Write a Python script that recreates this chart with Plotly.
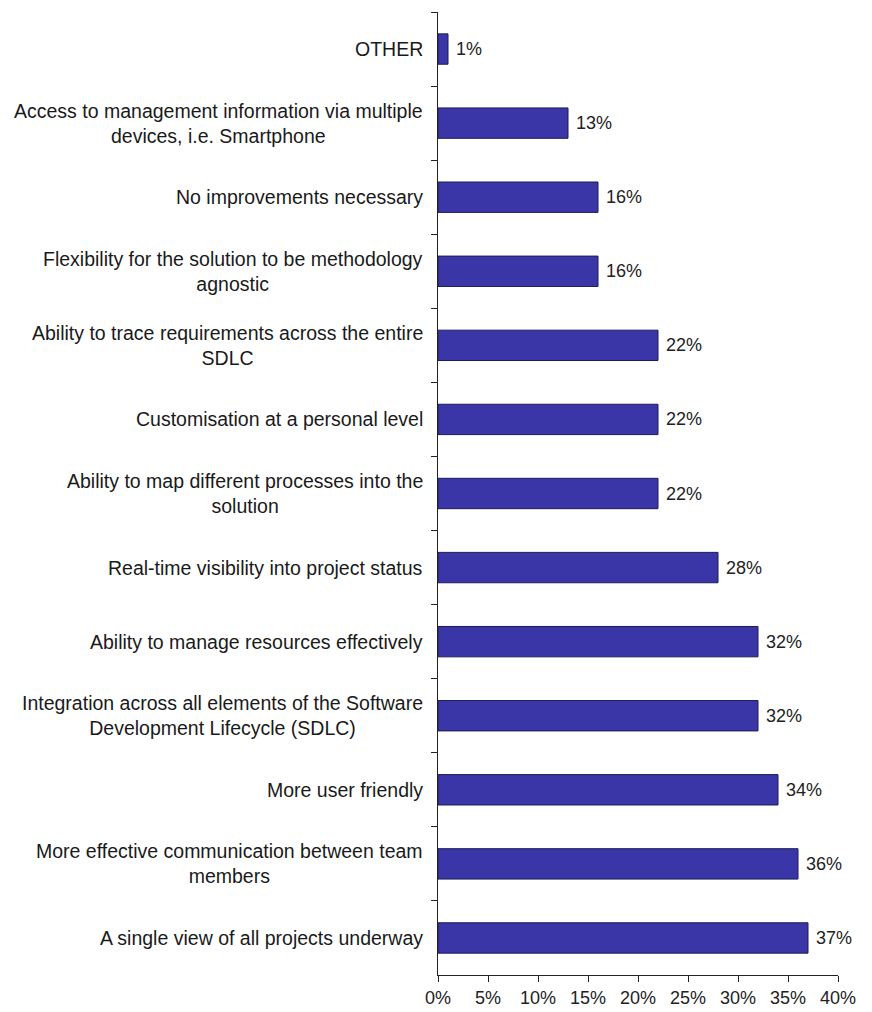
import plotly.graph_objects as go

categories = [
    "OTHER",
    "Access to management information via multiple<br>devices, i.e. Smartphone",
    "No improvements necessary",
    "Flexibility for the solution to be methodology<br>agnostic",
    "Ability to trace requirements across the entire<br>SDLC",
    "Customisation at a personal level",
    "Ability to map different processes into the<br>solution",
    "Real-time visibility into project status",
    "Ability to manage resources effectively",
    "Integration across all elements of the Software<br>Development Lifecycle (SDLC)",
    "More user friendly",
    "More effective communication between team<br>members",
    "A single view of all projects underway",
]
values = [1, 13, 16, 16, 22, 22, 22, 28, 32, 32, 34, 36, 37]
x_ticks = [0, 5, 10, 15, 20, 25, 30, 35, 40]

font_family = "Liberation Sans, Arial, sans-serif"

fig = go.Figure()
fig.add_trace(go.Bar(
    x=values,
    y=categories,
    orientation="h",
    marker=dict(color="#3a36a8", line=dict(color="#1c1c55", width=1)),
    text=[f" {v}%" for v in values],
    textposition="outside",
    textfont=dict(family=font_family, size=18, color="#222222"),
    cliponaxis=False,
    width=0.41,
))

annotations = []
for c in categories:
    annotations.append(dict(
        x=0, xref="paper", y=c, yref="y",
        text=c, showarrow=False,
        xanchor="right", yanchor="middle", align="center",
        xshift=-13,
        font=dict(family=font_family, size=19.5, color="#1a1a1a"),
    ))

fig.update_layout(
    width=864, height=1004,
    margin=dict(l=430, r=34, t=4, b=37),
    paper_bgcolor="white", plot_bgcolor="white",
    showlegend=False,
    annotations=annotations,
    font=dict(family=font_family, size=18, color="#222222"),
)
fig.update_xaxes(
    range=[0, 40],
    tickvals=x_ticks,
    ticktext=[f"{t}%" for t in x_ticks],
    ticks="outside", ticklen=6, tickcolor="#222222",
    showline=True, linecolor="#222222", linewidth=1,
    showgrid=False, zeroline=False, automargin=False,
    tickfont=dict(family=font_family, size=18, color="#222222"),
)
fig.update_yaxes(
    categoryorder="array", categoryarray=categories,
    autorange="reversed",
    showticklabels=False,
    ticks="outside", ticklen=6, tickcolor="#222222",
    tickson="boundaries",
    showline=True, linecolor="#222222", linewidth=1,
    showgrid=False, zeroline=False, automargin=False,
)

fig.write_html("out.html")
